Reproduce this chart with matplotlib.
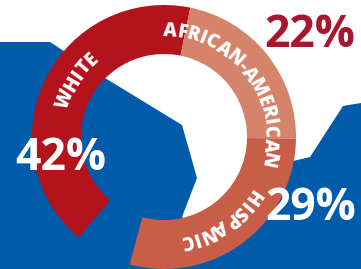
import numpy as np
import matplotlib
matplotlib.use("Agg")
import matplotlib.pyplot as plt
from matplotlib.patches import Polygon
from matplotlib.font_manager import FontProperties
from matplotlib.textpath import TextToPath

# ---------------------------------------------------------
# datos
# ---------------------------------------------------------
grupos = ["WHITE", "AFRICAN-AMERICAN", "HISPANIC"]
porcentajes = [42, 22, 29]
etiquetas_pct = ["42%", "22%", "29%"]
colores = ["#B3131D", "#D5836B", "#C85E48"]

# silueta azul de fondo (pixeles de la imagen, y hacia abajo)
silueta_x = [0, 50, 105, 182, 197, 182, 200, 270, 293, 310, 343, 361, 361, 0]
silueta_y = [42, 42, 78, 125, 178, 217, 232, 185, 161, 157, 106, 103, 269, 269]

W, H = 361, 269
DPI = 100

fig = plt.figure(figsize=(W / DPI, H / DPI), dpi=DPI)
ax = fig.add_axes([0, 0, 1, 1])

# fondo
pts = np.column_stack([silueta_x, H - np.array(silueta_y)])
ax.add_patch(Polygon(pts, closed=True, facecolor="#005BAA", edgecolor="none", zorder=0))

# anillo
cx, cy = 164, 132
r_ext, ancho = 132, 49
resto = 100 - sum(porcentajes)
ax.pie(porcentajes + [resto], colors=colores + ["none"], startangle=229.7,
       counterclock=False, radius=r_ext, center=(cx, cy),
       wedgeprops=dict(width=ancho, edgecolor="none"), frame=True)

# texto curvo
tam = 13.5
fp = FontProperties(family="Open Sans", weight=800, size=tam)
t2p = TextToPath()
tracking = 0.5
r_mid = r_ext - ancho / 2
cap = 0.714 * tam * DPI / 72
r_base = r_mid - cap / 2

def texto_curvo(txt, ang_medio):
    anchos = [t2p.get_text_width_height_descent(c, fp, ismath=False)[0] * DPI / 72 for c in txt]
    total = sum(anchos) + tracking * (len(txt) - 1)
    th0 = np.radians(ang_medio) - total / 2 / r_mid
    s = 0
    for c, w in zip(txt, anchos):
        th = th0 + (s + w / 2) / r_mid
        x = cx + r_base * np.sin(th)
        y = cy + r_base * np.cos(th)
        ax.text(x, y, c, fontproperties=fp, color="white", ha="center", va="baseline",
                rotation=-np.degrees(th), rotation_mode="anchor", zorder=5)
        s += w + tracking

texto_curvo(grupos[0], -57.5)
texto_curvo(grupos[1], 53)
texto_curvo(grupos[2], 146)

# porcentajes
fp_big = dict(family="Open Sans", weight="bold", size=32)
ax.text(61, H - 170, etiquetas_pct[0], color="white", ha="center", va="baseline", zorder=6, **fp_big)
ax.text(310, H - 47, etiquetas_pct[1], color="#A8172D", ha="center", va="baseline", zorder=6, **fp_big)
ax.text(311, H - 220, etiquetas_pct[2], color="white", ha="center", va="baseline", zorder=6, **fp_big)

ax.set_xlim(0, W)
ax.set_ylim(0, H)
ax.set_aspect("auto")
ax.axis("off")

plt.savefig("out.png", dpi=DPI)
